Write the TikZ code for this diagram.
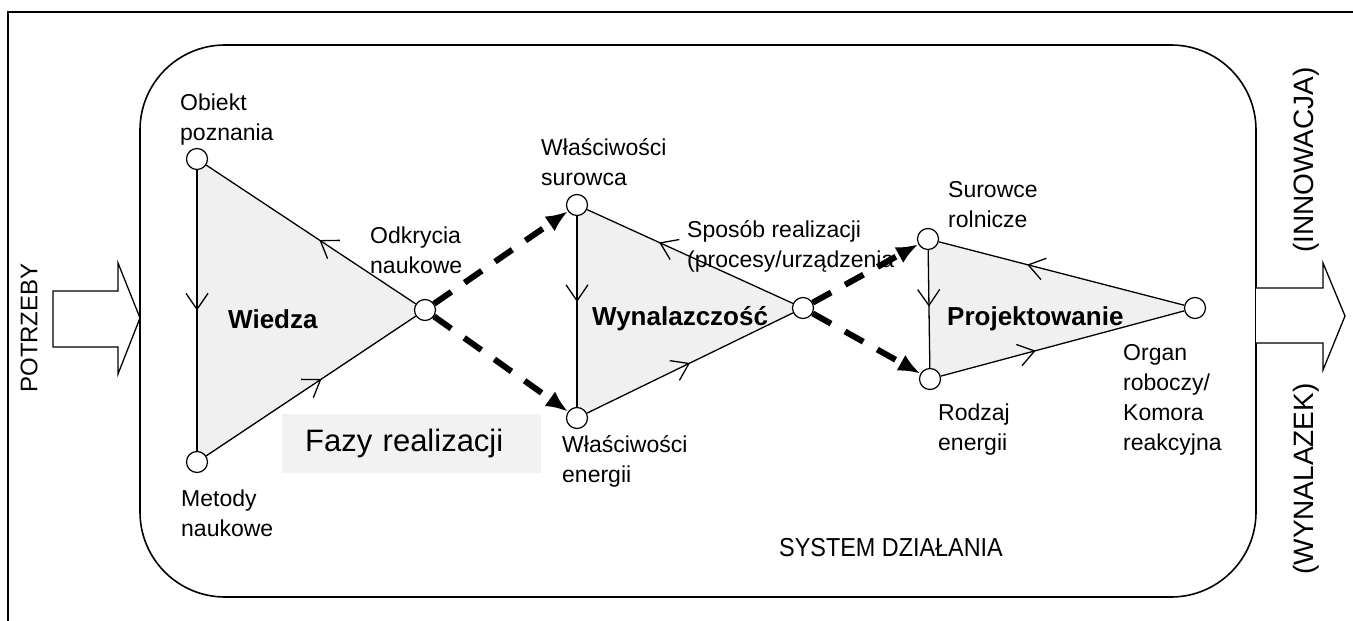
\documentclass[tikz,border=0pt]{standalone}
\usepackage{fontspec}
\setmainfont{Liberation Sans}
\newfontfamily\narrowfont{Liberation Sans}[FakeStretch=0.9]
\usepackage{tikz}
\usetikzlibrary{arrows.meta}
\usetikzlibrary{decorations.markings,backgrounds}
\tikzset{>={Latex[width=18pt,length=22pt]}}
\definecolor{trifill}{HTML}{F0F0F0}
\definecolor{boxgray}{HTML}{F2F2F2}

\tikzset{
  vertex/.style={circle, draw, fill=white, line width=1.2pt,
    minimum size=21pt, inner sep=0pt},
  desc/.style={font=\fontsize{23}{30}\selectfont, align=left, inner sep=0pt},
  phase/.style={font=\bfseries\fontsize{26}{30}\selectfont, inner sep=0pt},
  side/.style={font=\fontsize{#1}{30}\selectfont, rotate=90, inner sep=0pt},
  flow/.style={->, line width=6pt, dash pattern=on 21pt off 16pt},
  edge/.style={line width=1.3pt, postaction={decorate, decoration={markings,
    mark=at position #1 with {\arrow{Straight Barb[length=16pt,width=22pt,line width=1.3pt]}}}}},
}

\begin{document}
\begin{tikzpicture}[x=1pt, y=-1pt]

\useasboundingbox (0,0) rectangle (1353,621);

%% frame and system box
\draw[line width=1.6pt] (8,621) -- (8,12) -- (1353,12);
\draw[line width=1.6pt, rounded corners=85pt] (140,45) rectangle (1256,597);

%% input / output arrows
\draw[line width=1.3pt, fill=white] (53,291) -- (118,291) -- (118,263) -- (140,318)
  -- (118,374) -- (118,347) -- (53,347) -- cycle;
\draw[line width=1.3pt, fill=white] (1256,288) -- (1323,288) -- (1323,263) -- (1345,316)
  -- (1323,370) -- (1323,343) -- (1256,343);

\node[side=24] (potrzeby) at (29,328) {POTRZEBY};
\node[side=28] (innowacja) at (1306,160) {(INNOWACJA)};
\node[side=28] (wynalazek) at (1306,479) {(WYNALAZEK)};

%% vertices
\node[vertex] (obiekt) at (197,159) {};
\node[vertex] (metody) at (197,462) {};
\node[vertex] (odkrycia) at (425,310) {};
\node[vertex] (surowiec) at (577,205) {};
\node[vertex] (energia) at (577,418) {};
\node[vertex] (sposob) at (803,308) {};
\node[vertex] (surowce) at (928,239) {};
\node[vertex] (rodzaj) at (930,379) {};
\node[vertex] (organ) at (1195,308) {};

\begin{scope}[on background layer]
\fill[trifill] (obiekt.center) -- (metody.center) -- (odkrycia.center) -- cycle;
\fill[trifill] (surowiec.center) -- (energia.center) -- (sposob.center) -- cycle;
\fill[trifill] (surowce.center) -- (rodzaj.center) -- (organ.center) -- cycle;
\end{scope}

%% triangle sides
\draw[edge=0.5] (obiekt) -- (metody);
\draw[edge=0.55] (metody) -- (odkrycia);
\draw[edge=0.46] (odkrycia) -- (obiekt);
\draw[edge=0.45] (surowiec) -- (energia);
\draw[edge=0.5] (energia) -- (sposob);
\draw[edge=0.65] (sposob) -- (surowiec);
\draw[edge=0.48] (surowce) -- (rodzaj);
\draw[edge=0.39] (rodzaj) -- (organ);
\draw[edge=0.64] (organ) -- (surowce);

%% phases
\draw[flow] (odkrycia) -- (surowiec);
\draw[flow] (odkrycia) -- (energia);
\draw[flow] (sposob) -- (surowce);
\draw[flow] (sposob) -- (rodzaj);

%% texts
\node[desc, anchor=west] (t-obiekt) at (180,120) {Obiekt\\poznania};
\node[desc, anchor=west] (t-metody) at (181,513) {Metody\\naukowe};
\node[desc, anchor=west] (t-odkrycia) at (370,250) {Odkrycia\\naukowe};
\node[desc, anchor=west] (t-surowiec) at (541,162) {Właściwości\\surowca};
\node[desc, anchor=west] (t-energia) at (562,461) {Właściwości\\energii};
\node[desc, anchor=west] (t-sposob) at (687,246) {Sposób realizacji\\(procesy/urządzenia};
\node[desc, anchor=west] (t-surowce) at (948,205) {Surowce\\rolnicze};
\node[desc, anchor=west] (t-rodzaj) at (938,430) {Rodzaj\\energii};
\node[desc, anchor=west] (t-organ) at (1123,400) {Organ\\roboczy/\\Komora\\reakcyjna};

\node[phase, anchor=base west] (wiedza) at (228,328) {Wiedza};
\node[phase, anchor=base west] (wynalazczosc) at (592,325) {Wynalazczość};
\node[phase, anchor=base west] (projektowanie) at (947,325) {Projektowanie};

\node[fill=boxgray, anchor=west, font=\fontsize{31}{36}\selectfont,
  text width=213pt, align=left, inner xsep=23pt, inner ysep=0pt,
  minimum height=59pt] (fazy) at (282,443.5) {Fazy realizacji};

\node[font=\narrowfont\fontsize{26}{30}\selectfont] (system) at (891,548) {SYSTEM DZIAŁANIA};

\end{tikzpicture}
\end{document}
